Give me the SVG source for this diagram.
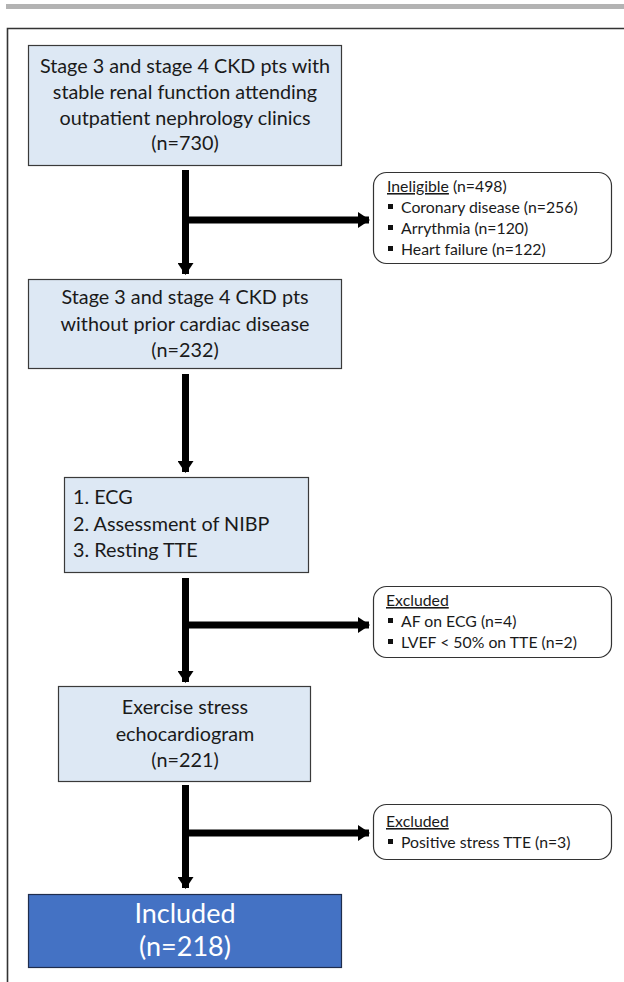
<svg xmlns="http://www.w3.org/2000/svg" width="624" height="982" viewBox="0 0 624 982">
<style>
.box{fill:#dde8f4;stroke:#3a3a3a;stroke-width:1.2}
.side{fill:#fff;stroke:#333;stroke-width:1.2}
.t{font-family:Lato,"Liberation Sans",sans-serif;font-size:19.8px;fill:#1a1a1a}
.c{text-anchor:middle}
.s{font-family:Lato,"Liberation Sans",sans-serif;font-size:15.8px;fill:#1a1a1a}
.w{font-family:Lato,"Liberation Sans",sans-serif;font-size:27px;fill:#fff;text-anchor:middle}
.con{stroke:#000;stroke-width:7;fill:none}
.bul{fill:#111}
</style>
<defs>
<marker id="ah" markerUnits="userSpaceOnUse" markerWidth="12" markerHeight="16" refX="11" refY="8" orient="auto">
<path d="M0,0 L12,8 L0,16 z" fill="#000"/>
</marker>
</defs>
<rect x="6" y="4" width="618" height="5" fill="#b3b3b3"/>
<path d="M7.5,982 V28.5 H624" fill="none" stroke="#333" stroke-width="1.6"/>

<g id="connectors">
<path class="con" d="M185.5,170 V274" marker-end="url(#ah)"/>
<path class="con" d="M185.5,220 H369" marker-end="url(#ah)"/>
<path class="con" d="M185.5,374 V472" marker-end="url(#ah)"/>
<path class="con" d="M185.5,578 V682" marker-end="url(#ah)"/>
<path class="con" d="M185.5,625 H369" marker-end="url(#ah)"/>
<path class="con" d="M185.5,785 V888" marker-end="url(#ah)"/>
<path class="con" d="M185.5,833 H369" marker-end="url(#ah)"/>
</g>

<g id="n1">
<rect class="box" x="28.5" y="45.5" width="313" height="120"/>
<text class="t c" x="185" y="73">Stage 3 and stage 4 CKD pts with</text>
<text class="t c" x="185" y="99">stable renal function attending</text>
<text class="t c" x="185" y="125">outpatient nephrology clinics</text>
<text class="t c" x="185" y="150">(n=730)</text>
</g>

<g id="n_ineligible">
<rect class="side" x="373.5" y="172.5" width="238" height="91" rx="13"/>
<text class="s" x="387" y="192"><tspan text-decoration="underline">Ineligible</tspan> (n=498)</text>
<rect class="bul" x="388" y="204" width="5" height="5"/>
<text class="s" x="401" y="213">Coronary disease (n=256)</text>
<rect class="bul" x="388" y="225" width="5" height="5"/>
<text class="s" x="401" y="234">Arrythmia (n=120)</text>
<rect class="bul" x="388" y="246" width="5" height="5"/>
<text class="s" x="401" y="255">Heart failure (n=122)</text>
</g>

<g id="n2">
<rect class="box" x="28.5" y="279.5" width="313" height="89"/>
<text class="t c" x="185" y="304">Stage 3 and stage 4 CKD pts</text>
<text class="t c" x="185" y="331">without prior cardiac disease</text>
<text class="t c" x="185" y="357">(n=232)</text>
</g>

<g id="n3">
<rect class="box" x="64.5" y="477.5" width="244" height="95"/>
<text class="t" x="73" y="504">1. ECG</text>
<text class="t" x="73" y="531">2. Assessment of NIBP</text>
<text class="t" x="73" y="557">3. Resting TTE</text>
</g>

<g id="n_excluded1">
<rect class="side" x="373.5" y="586.5" width="238" height="71" rx="13"/>
<text class="s" x="386" y="606"><tspan text-decoration="underline">Excluded</tspan></text>
<rect class="bul" x="388" y="618" width="5" height="5"/>
<text class="s" x="401" y="627">AF on ECG (n=4)</text>
<rect class="bul" x="388" y="639" width="5" height="5"/>
<text class="s" x="401" y="648">LVEF &lt; 50% on TTE (n=2)</text>
</g>

<g id="n4">
<rect class="box" x="58.5" y="686.5" width="252" height="95"/>
<text class="t c" x="185" y="714">Exercise stress</text>
<text class="t c" x="185" y="741">echocardiogram</text>
<text class="t c" x="185" y="767">(n=221)</text>
</g>

<g id="n_excluded2">
<rect class="side" x="373.5" y="804.5" width="238" height="55" rx="13"/>
<text class="s" x="386" y="827"><tspan text-decoration="underline">Excluded</tspan></text>
<rect class="bul" x="388" y="839" width="5" height="5"/>
<text class="s" x="401" y="848">Positive stress TTE (n=3)</text>
</g>

<g id="n5">
<rect x="28.5" y="894.5" width="313" height="73" fill="#4472c4" stroke="#1f2d4d" stroke-width="1.2"/>
<text class="w" x="185" y="923">Included</text>
<text class="w" x="185" y="956">(n=218)</text>
</g>
</svg>
